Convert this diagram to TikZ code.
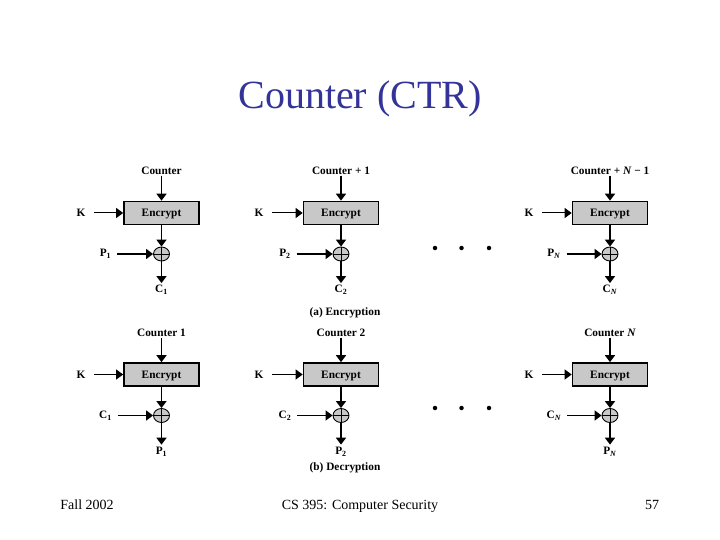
\documentclass[tikz,border=0pt]{standalone}
\usepackage{fontspec}
\setmainfont{Liberation Serif}
\usetikzlibrary{arrows.meta,shapes.geometric}
\definecolor{titleblue}{RGB}{51,51,153}
\definecolor{boxgray}{RGB}{200,200,200}

\begin{document}
\begin{tikzpicture}[x=1pt, y=-1pt, >={Triangle[length=7pt,width=10pt]}, line width=1.7pt,
    main/.style = {draw, rectangle, fill=boxgray, minimum width=75pt, minimum height=23pt, inner sep=0pt, text depth=0pt, font=\fontsize{11.3}{12}\bfseries},
    xor/.style = {draw, ellipse, fill=boxgray, minimum width=16pt, minimum height=14pt, inner sep=0pt, line width=0.9pt,
        path picture={\draw[line width=0.6pt] (path picture bounding box.west) -- (path picture bounding box.east);
        \draw[line width=0.6pt] (path picture bounding box.north) -- (path picture bounding box.south);}},
    tag/.style = {inner sep=0pt, font=\fontsize{11.3}{12}\bfseries},
    keyline/.style = {->, line width=1pt, shorten <=8pt},
    inline/.style = {->, shorten <=5pt},
    outline/.style = {->, shorten >=1.5pt},
    dot/.style = {circle, fill, inner sep=0pt, minimum size=4.5pt},
    foot/.style = {inner sep=0pt, anchor=base, font=\fontsize{14}{16}\selectfont}]
    \useasboundingbox (0,0) rectangle (720,540);
    \node[inner sep=0pt, text=titleblue, font=\fontsize{40}{46}\selectfont] (title) at (360,99) {Counter (CTR)};

    % encryption row
    \node[main] (1) at (161.5,213) {Encrypt};
    \node[tag] (1c) [above of=1, node distance=42pt] {Counter};
    \node[tag] (1k) [left of=1, node distance=80.5pt] {K};
    \node[xor] (1x) [below of=1, node distance=41pt] {};
    \node[tag] (1p) [left of=1x, node distance=56pt] {P\textsubscript{1}};
    \node[tag] (1o) [below of=1x, node distance=36pt] {C\textsubscript{1}};
    \draw[->] (1c) -- (1);
    \draw[keyline] (1k) -- (1);
    \draw[->] (1) -- (1x);
    \draw[inline] (1p) -- (1x);
    \draw[outline] (1x) -- (1o);

    \node[main] (2) at (341,213) {Encrypt};
    \node[tag] (2c) [above of=2, node distance=42pt] {Counter + 1};
    \node[tag] (2k) [left of=2, node distance=82pt] {K};
    \node[xor] (2x) [below of=2, node distance=41pt] {};
    \node[tag] (2p) [left of=2x, node distance=56pt] {P\textsubscript{2}};
    \node[tag] (2o) [below of=2x, node distance=36pt] {C\textsubscript{2}};
    \draw[->] (2c) -- (2);
    \draw[keyline] (2k) -- (2);
    \draw[->] (2) -- (2x);
    \draw[inline] (2p) -- (2x);
    \draw[outline] (2x) -- (2o);

    \node[main] (3) at (610,213) {Encrypt};
    \node[tag] (3c) [above of=3, node distance=42pt] {Counter + \textit{N} − 1};
    \node[tag] (3k) [left of=3, node distance=81pt] {K};
    \node[xor] (3x) [below of=3, node distance=41pt] {};
    \node[tag] (3p) [left of=3x, node distance=56pt] {P\textsubscript{\textit{N}}};
    \node[tag] (3o) [below of=3x, node distance=36pt] {C\textsubscript{\textit{N}}};
    \draw[->] (3c) -- (3);
    \draw[keyline] (3k) -- (3);
    \draw[->] (3) -- (3x);
    \draw[inline] (3p) -- (3x);
    \draw[outline] (3x) -- (3o);

    \node[dot] (d1) at (435,248) {};
    \node[dot] (d2) at (461.5,248) {};
    \node[dot] (d3) at (489,248) {};
    \node[tag] (enc) at (345,312.5) {(a) Encryption};

    % decryption row
    \node[main] (4) at (161.5,374.5) {Encrypt};
    \node[tag] (4c) [above of=4, node distance=41.5pt] {Counter 1};
    \node[tag] (4k) [left of=4, node distance=80.5pt] {K};
    \node[xor] (4x) [below of=4, node distance=41pt] {};
    \node[tag] (4p) [left of=4x, node distance=56pt] {C\textsubscript{1}};
    \node[tag] (4o) [below of=4x, node distance=36pt] {P\textsubscript{1}};
    \draw[->] (4c) -- (4);
    \draw[keyline] (4k) -- (4);
    \draw[->] (4) -- (4x);
    \draw[inline] (4p) -- (4x);
    \draw[outline] (4x) -- (4o);

    \node[main] (5) at (341,374.5) {Encrypt};
    \node[tag] (5c) [above of=5, node distance=41.5pt] {Counter 2};
    \node[tag] (5k) [left of=5, node distance=82pt] {K};
    \node[xor] (5x) [below of=5, node distance=41pt] {};
    \node[tag] (5p) [left of=5x, node distance=56pt] {C\textsubscript{2}};
    \node[tag] (5o) [below of=5x, node distance=36pt] {P\textsubscript{2}};
    \draw[->] (5c) -- (5);
    \draw[keyline] (5k) -- (5);
    \draw[->] (5) -- (5x);
    \draw[inline] (5p) -- (5x);
    \draw[outline] (5x) -- (5o);

    \node[main] (6) at (610,374.5) {Encrypt};
    \node[tag] (6c) [above of=6, node distance=41.5pt] {Counter \textit{N}};
    \node[tag] (6k) [left of=6, node distance=81pt] {K};
    \node[xor] (6x) [below of=6, node distance=41pt] {};
    \node[tag] (6p) [left of=6x, node distance=56pt] {C\textsubscript{\textit{N}}};
    \node[tag] (6o) [below of=6x, node distance=36pt] {P\textsubscript{\textit{N}}};
    \draw[->] (6c) -- (6);
    \draw[keyline] (6k) -- (6);
    \draw[->] (6) -- (6x);
    \draw[inline] (6p) -- (6x);
    \draw[outline] (6x) -- (6o);

    \node[dot] (d4) at (435,408) {};
    \node[dot] (d5) at (461.5,408) {};
    \node[dot] (d6) at (489,408) {};
    \node[tag] (dec) at (345,468) {(b) Decryption};

    \node[foot] (date) at (87,509) {Fall 2002};
    \node[foot] (course) at (360,509) {CS 395: Computer Security};
    \node[foot] (page) at (652,509) {57};
\end{tikzpicture}
\end{document}
